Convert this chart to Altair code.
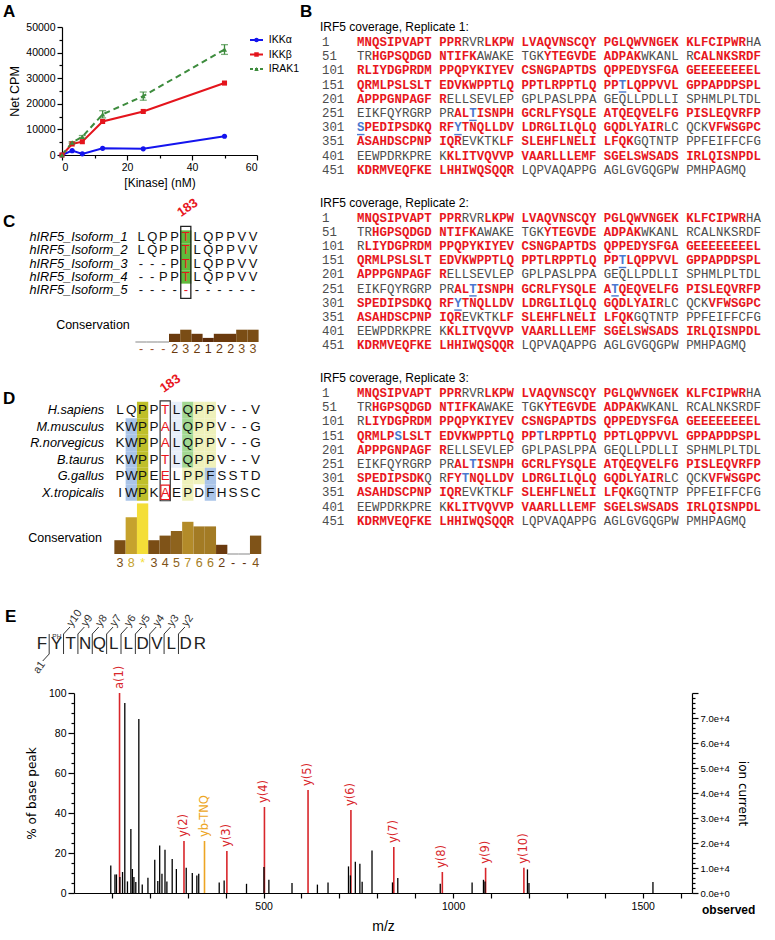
import altair as alt
import pandas as pd

FONT = "Liberation Sans"
NARROW = "Liberation Sans Narrow, Liberation Sans"
MONO = "Liberation Mono"
ROUND = "DejaVu Sans"

# ---------------- Panel A: kinase titration ----------------
kinase_nM = [0, 3.125, 6.25, 12.5, 25, 50]
cpm_ikka = [0, 1700, 450, 2600, 2400, 7300]
cpm_ikkb = [0, 4300, 5200, 13100, 17000, 28100]
cpm_irak1 = [0, 4900, 7100, 15900, 23000, 41200]
sd_irak1 = [0, 300, 500, 1400, 1600, 1900]
kinase_names = ["IKKα", "IKKβ", "IRAK1"]
kinase_colors = ["#1414ee", "#e4141c", "#3e8c3e"]
kinase_shapes = ["circle", "square", "triangle-up"]

# ---------------- Panel B: IRF5 peptide coverage ----------------
irf5_seq = (
    "MNQSIPVAPTPPRRVRLKPWLVAQVNSCQYPGLQWVNGEKKLFCIPWRHA"
    "TRHGPSQDGDNTIFKAWAKETGKYTEGVDEADPAKWKANLRCALNKSRDF"
    "RLIYDGPRDMPPQPYKIYEVCSNGPAPTDSQPPEDYSFGAGEEEEEEEEL"
    "QRMLPSLSLTEDVKWPPTLQPPTLRPPTLQPPTLQPPVVLGPPAPDPSPL"
    "APPPGNPAGFRELLSEVLEPGPLPASLPPAGEQLLPDLLISPHMLPLTDL"
    "EIKFQYRGRPPRALTISNPHGCRLFYSQLEATQEQVELFGPISLEQVRFP"
    "SPEDIPSDKQRFYTNQLLDVLDRGLILQLQGQDLYAIRLCQCKVFWSGPC"
    "ASAHDSCPNPIQREVKTKLFSLEHFLNELILFQKGQTNTPPPFEIFFCFG"
    "EEWPDRKPREKKLITVQVVPVAARLLLEMFSGELSWSADSIRLQISNPDL"
    "KDRMVEQFKELHHIWQSQQRLQPVAQAPPGAGLGVGQGPWPMHPAGMQ"
)
coverage_rep1 = [(1, 13), (17, 48), (53, 65), (74, 85), (92, 211), (263, 338),
                 (344, 363), (369, 384), (412, 470)]
coverage_rep2 = [(1, 13), (17, 48), (53, 65), (74, 85), (102, 211), (263, 338),
                 (344, 363), (369, 384), (412, 470)]
coverage_rep3 = [(1, 13), (17, 48), (53, 65), (74, 85), (102, 211), (263, 309),
                 (312, 338), (344, 363), (369, 384), (412, 470)]
sites_rep1 = [183, 265, 301, 313]
sites_rep2 = [183, 265, 282, 313]
sites_rep3 = [156, 173, 265, 314]
sites_underlined = [True, True, False]

# ---------------- Panel C: isoform alignment ----------------
isoform_names = ["hIRF5_Isoform_1", "hIRF5_Isoform_2", "hIRF5_Isoform_3",
                 "hIRF5_Isoform_4", "hIRF5_Isoform_5"]
isoform_aln = ["LQPPTLQPPVV", "LQPPTLQPPVV", "---PTLQPPVV", "--PPTLQPPVV", "-----------"]
isoform_cons_labels = list("---23212233")
isoform_cons = [0, 0, 0, 2, 3, 2, 1, 2, 2, 3, 3]

# ---------------- Panel D: species alignment ----------------
species_names = ["H.sapiens", "M.musculus", "R.norvegicus", "B.taurus", "G.gallus", "X.tropicalis"]
species_aln = ["LQPPTLQPPV--V", "KWPPALQPPV--G", "KWPPALQPPV--G",
               "KWPPTLQPPV--V", "PWPEELPPFSSTD", "IWPKAEPDFHSSC"]
species_shade = ["..o..fgyy....", ".bo..fgyy....", ".bo..fgyy....",
                 ".bo..fgyy....", ".bo...yyb....", ".bo...y.b...."]
species_cons_labels = list("38*3457662--4")
species_cons = [3, 8, 11, 3, 4, 5, 7, 6, 6, 2, 0, 0, 4]
site_column = 4

# ---------------- Panel E: MS/MS spectrum ----------------
peptide = "FYTNQLLDVLDR"
ion_mz = [120.1, 290.1, 344.2, 403.2, 502.3, 617.3, 730.4, 843.5, 971.5, 1085.6, 1186.6]
ion_pct = [100, 26, 26, 21, 43, 51.5, 41.5, 23, 10.5, 12.6, 12.6]
ion_names = ["a(1)", "y(2)", "yb-TNQ", "y(3)", "y(4)", "y(5)", "y(6)", "y(7)", "y(8)", "y(9)", "y(10)"]
other_mz = [97, 108, 112, 121, 128, 134, 141, 150, 154, 158, 163, 171, 180, 195, 213, 221,
            226, 232, 240, 245, 259, 270, 296, 312, 324, 329, 383, 396, 455, 501, 514, 575,
            642, 670, 724, 729, 742, 754, 760, 786, 840, 854, 966, 1050, 1080, 1084, 1196,
            1200, 1527]
other_pct = [13.8, 9.3, 9.3, 8, 10.5, 95, 5.8, 32, 12, 8, 5.5, 87, 4.3, 7.6, 16.6, 6,
             23.8, 9.6, 21.6, 5.8, 17, 12, 12.6, 10, 8.8, 9.6, 5.3, 6.3, 4.6, 13, 6.6, 5,
             4.2, 5.3, 13.3, 8.8, 15.6, 14.6, 5.6, 21.3, 5.3, 7.5, 4.6, 5.3, 6.6, 5.8, 11.8,
             5, 5.5]
base_peak_counts = 80000

# ---------------- styling ----------------
RED = "#e8161d"
GREY = "#4d4d4d"
BLUE = "#4a78cf"
cons_palette = {0: "#999999", 1: "#5b2c0a", 2: "#6a3a0e", 3: "#7a4d15", 4: "#7f5318",
                5: "#8e631d", 6: "#a37b24", 7: "#b38b29", 8: "#c6a22d", 11: "#f4de38"}
shade_palette = {"o": "#bfbf2a", "b": "#aac4e8", "f": "#e8eff9", "g": "#a2d792", "y": "#eff1bb"}


def lin(domain, rng):
    return alt.Scale(domain=domain, range=rng, nice=False, zero=False)


def cond_tick(test, big, small):
    return {"condition": {"test": test, "value": big}, "value": small}


axis_style = dict(grid=False, domainColor="black", tickColor="black", labelColor="black",
                  titleColor="black", titleFontWeight="normal", domainWidth=1.2, tickWidth=1.2)

# ======================= Panel A =======================
a_rows = []
for name, color, shape, vals in zip(kinase_names, kinase_colors, kinase_shapes,
                                    [cpm_ikka, cpm_ikkb, cpm_irak1]):
    for i, (c, v) in enumerate(zip(kinase_nM, vals)):
        a_rows.append({"series": name, "color": color, "shape": shape, "nM": c, "cpm": v,
                       "sd": sd_irak1[i] if name == "IRAK1" else 0})
df_a = pd.DataFrame(a_rows)
sx_a = alt.Scale(domain=[0, 60], nice=False)
sy_a = alt.Scale(domain=[0, 50000], nice=False)
x_a_axis = alt.X("nM:Q", title="[Kinase] (nM)", scale=sx_a, axis=alt.Axis(
    values=list(range(0, 61, 10)), labelExpr="datum.value % 20 === 0 ? datum.label : ''",
    tickSize=cond_tick("datum.value % 20 === 0", 5, 3), labelFont=FONT, titleFont=FONT,
    labelFontSize=10.5, titleFontSize=12, labelPadding=2, titlePadding=5, **axis_style))
y_a_axis = alt.Y("cpm:Q", title="Net CPM", scale=sy_a, axis=alt.Axis(
    values=list(range(0, 50001, 5000)), format="d",
    labelExpr="datum.value % 10000 === 0 ? datum.label : ''",
    tickSize=cond_tick("datum.value % 10000 === 0", 5, 3), labelFont=FONT, titleFont=FONT,
    labelFontSize=10.5, titleFontSize=12.5, labelPadding=2, titlePadding=4, **axis_style))
x_a = alt.X("nM:Q", scale=sx_a, axis=None)
y_a = alt.Y("cpm:Q", scale=sy_a, axis=None)
col_raw = alt.Color("color:N", scale=None)

base_a = alt.Chart(df_a)
a_solid = base_a.transform_filter("datum.series != 'IRAK1'").mark_line(strokeWidth=2).encode(
    x=x_a_axis, y=y_a_axis, color=col_raw, detail="series:N")
a_dash = base_a.transform_filter("datum.series == 'IRAK1'").mark_line(
    strokeWidth=2, strokeDash=[6, 4]).encode(x=x_a, y=y_a, color=col_raw)
a_err = base_a.transform_filter("datum.sd > 0").transform_calculate(
    lo="datum.cpm - datum.sd", hi="datum.cpm + datum.sd")
a_bar = a_err.mark_rule(strokeWidth=1.3).encode(
    x=x_a, y=alt.Y("lo:Q", scale=sy_a, axis=None), y2="hi:Q", color=col_raw)
a_cap_lo = a_err.mark_tick(orient="horizontal", size=7, thickness=1.3).encode(
    x=x_a, y=alt.Y("lo:Q", scale=sy_a, axis=None), color=col_raw)
a_cap_hi = a_err.mark_tick(orient="horizontal", size=7, thickness=1.3).encode(
    x=x_a, y=alt.Y("hi:Q", scale=sy_a, axis=None), color=col_raw)
a_pts = base_a.mark_point(filled=True, size=26, opacity=1).encode(
    x=x_a, y=y_a, color=col_raw, shape=alt.Shape("shape:N", scale=None))

# legend of panel A
df_leg = pd.DataFrame({"series": kinase_names, "color": kinase_colors,
                       "shape": kinase_shapes, "row": [0, 1, 2]})
lx = lin([0, 1], [188, 201])
ly = lin([0, 2], [13, 42])
leg = alt.Chart(df_leg).transform_calculate(x0="0", x1="1", xm="0.5", xt="1.45")
leg_line = leg.mark_rule(strokeWidth=2).encode(
    x=alt.X("x0:Q", scale=lx, axis=None), x2="x1:Q",
    y=alt.Y("row:Q", scale=ly, axis=None), color=col_raw,
    strokeDash=alt.condition("datum.series === 'IRAK1'", alt.value([3, 2]), alt.value([1, 0])))
leg_pt = leg.mark_point(filled=True, size=20, opacity=1).encode(
    x=alt.X("xm:Q", scale=lx, axis=None), y=alt.Y("row:Q", scale=ly, axis=None),
    color=col_raw, shape=alt.Shape("shape:N", scale=None))
leg_txt = leg.mark_text(align="left", baseline="middle", font=FONT, fontSize=10.5,
                        color="black").encode(
    x=alt.X("xt:Q", scale=lx, axis=None), y=alt.Y("row:Q", scale=ly, axis=None),
    text="series:N")

# ======================= Panel B =======================
REP_GAP = 12.36
reps = [(coverage_rep1, sites_rep1), (coverage_rep2, sites_rep2), (coverage_rep3, sites_rep3)]
b_chars, b_lines = [], []
for r, (cov, sites) in enumerate(reps):
    covered = set()
    for s, e in cov:
        covered.update(range(s, e + 1))
    for p in range(1, len(irf5_seq) + 1):
        k, i = divmod(p - 1, 50)
        slot = (i // 10) * 11 + i % 10
        line = r * REP_GAP + k
        if p in sites:
            color, bold = BLUE, True
        elif p in covered:
            color, bold = RED, True
        else:
            color, bold = GREY, False
        b_chars.append({"ch": irf5_seq[p - 1], "slot": slot, "line": line,
                        "color": color, "bold": bold,
                        "ul": bool(p in sites and sites_underlined[r])})
    for k in range(10):
        b_lines.append({"num": str(k * 50 + 1), "slot": -5.18, "line": r * REP_GAP + k})
df_b = pd.DataFrame(b_chars)
df_b_num = pd.DataFrame(b_lines)
df_b_title = pd.DataFrame({"title": [f"IRF5 coverage, Replicate {r + 1}:" for r in range(3)],
                           "slot": [-5.45] * 3,
                           "line": [r * REP_GAP - 1.05 for r in range(3)]})
bx = lin([0, 1], [298.74, 306.22])
by = lin([0, 1], [15, 29.2])
b_bold = alt.Chart(df_b).transform_filter("datum.bold").mark_text(
    font=MONO, fontSize=12.4, fontWeight="bold", align="center", baseline="middle").encode(
    x=alt.X("slot:Q", scale=bx, axis=None), y=alt.Y("line:Q", scale=by, axis=None),
    text="ch:N", color=col_raw)
b_reg = alt.Chart(df_b).transform_filter("!datum.bold").mark_text(
    font=MONO, fontSize=12.4, align="center", baseline="middle").encode(
    x=alt.X("slot:Q", scale=bx, axis=None), y=alt.Y("line:Q", scale=by, axis=None),
    text="ch:N", color=col_raw)
b_ul = alt.Chart(df_b).transform_filter("datum.ul").transform_calculate(
    u0="datum.slot - 0.5", u1="datum.slot + 0.5", uy="datum.line + 0.52").mark_rule(
    strokeWidth=1.4, color=BLUE).encode(
    x=alt.X("u0:Q", scale=bx, axis=None), x2="u1:Q", y=alt.Y("uy:Q", scale=by, axis=None))
b_num = alt.Chart(df_b_num).mark_text(font=MONO, fontSize=12.4, align="left",
                                      baseline="middle", color=GREY).encode(
    x=alt.X("slot:Q", scale=bx, axis=None), y=alt.Y("line:Q", scale=by, axis=None),
    text="num:N")
b_title = alt.Chart(df_b_title).mark_text(font=FONT, fontSize=12, align="left",
                                          baseline="middle", color="black").encode(
    x=alt.X("slot:Q", scale=bx, axis=None), y=alt.Y("line:Q", scale=by, axis=None),
    text="title:N")

# ======================= Panel C =======================
c_cells = []
for r, seq in enumerate(isoform_aln):
    for c, ch in enumerate(seq):
        on_site = c == site_column
        c_cells.append({"row": r, "col": c, "ch": ch,
                        "color": RED if on_site else "#111111",
                        "fill": "#5fba3c" if (on_site and ch != "-") else "none"})
df_c = pd.DataFrame(c_cells)
cx = lin([0, 10], [79, 191])
cy = lin([0, 4], [210, 263.3])
c_bg = alt.Chart(df_c).transform_filter("datum.fill != 'none'").transform_calculate(
    x0="datum.col - 0.5", x1="datum.col + 0.5", y0="datum.row - 0.5", y1="datum.row + 0.5"
).mark_rect().encode(
    x=alt.X("x0:Q", scale=cx, axis=None), x2="x1:Q",
    y=alt.Y("y0:Q", scale=cy, axis=None), y2="y1:Q", fill=alt.Fill("fill:N", scale=None))
c_txt = alt.Chart(df_c).mark_text(font=FONT, fontSize=13, align="center",
                                  baseline="middle").encode(
    x=alt.X("col:Q", scale=cx, axis=None), y=alt.Y("row:Q", scale=cy, axis=None),
    text="ch:N", color=col_raw)
df_c_names = pd.DataFrame({"name": isoform_names, "row": list(range(5)), "col": [-1.2] * 5})
c_names = alt.Chart(df_c_names).mark_text(font=FONT, fontSize=12.7, fontStyle="italic",
                                          align="right", baseline="middle",
                                          color="black").encode(
    x=alt.X("col:Q", scale=cx, axis=None), y=alt.Y("row:Q", scale=cy, axis=None),
    text="name:N")
df_c_box = pd.DataFrame({"x0": [site_column - 0.45], "x1": [site_column + 0.45],
                         "y0": [-0.8], "y1": [4.6], "lab": ["183"],
                         "lx": [site_column + 0.15], "ly": [-2.2]})
c_box = alt.Chart(df_c_box).mark_rect(fillOpacity=0, stroke="#222222", strokeWidth=1.3).encode(
    x=alt.X("x0:Q", scale=cx, axis=None), x2="x1:Q",
    y=alt.Y("y0:Q", scale=cy, axis=None), y2="y1:Q")
c_183 = alt.Chart(df_c_box).mark_text(font=FONT, fontSize=13, fontWeight="bold", color=RED,
                                      angle=325, align="center", baseline="middle").encode(
    x=alt.X("lx:Q", scale=cx, axis=None), y=alt.Y("ly:Q", scale=cy, axis=None), text="lab:N")

df_cc = pd.DataFrame({"col": list(range(11)), "val": isoform_cons, "lab": isoform_cons_labels})
df_cc["color"] = [cons_palette[v] if v > 0 else "#a0522d" for v in isoform_cons]
df_cc["bar"] = [cons_palette[v] for v in isoform_cons]
ccy = lin([0, 3], [315, 302.7])
cc = alt.Chart(df_cc).transform_calculate(x0="datum.col - 0.5", x1="datum.col + 0.5",
                                          zero="0", ty="-1.8")
cc_bar = cc.transform_filter("datum.val > 0").mark_rect().encode(
    x=alt.X("x0:Q", scale=cx, axis=None), x2="x1:Q",
    y=alt.Y("zero:Q", scale=ccy, axis=None), y2="val:Q", fill=alt.Fill("bar:N", scale=None))
cc_base = cc.transform_filter("datum.val == 0").mark_rule(strokeWidth=1.2, color="#9a9a9a").encode(
    x=alt.X("x0:Q", scale=cx, axis=None), x2="x1:Q", y=alt.Y("zero:Q", scale=ccy, axis=None))
cc_lab = cc.mark_text(font=FONT, fontSize=12.5, align="center", baseline="middle").encode(
    x=alt.X("col:Q", scale=cx, axis=None), y=alt.Y("ty:Q", scale=ccy, axis=None),
    text="lab:N", color=col_raw)
cc_title = alt.Chart(pd.DataFrame({"t": ["Conservation"], "col": [-1.0], "v": [4.1]})).mark_text(
    font=FONT, fontSize=12.5, align="right", baseline="middle", color="black").encode(
    x=alt.X("col:Q", scale=cx, axis=None), y=alt.Y("v:Q", scale=ccy, axis=None), text="t:N")

# ======================= Panel D =======================
d_cells = []
for r, (seq, shade) in enumerate(zip(species_aln, species_shade)):
    for c, (ch, sh) in enumerate(zip(seq, shade)):
        d_cells.append({"row": r, "col": c, "ch": ch,
                        "color": RED if c == site_column else "#111111",
                        "fill": shade_palette.get(sh, "none")})
df_d = pd.DataFrame(d_cells)
dx = lin([0, 12], [58, 193.6])
dy = lin([0, 5], [383, 465.5])
d_bg = alt.Chart(df_d).transform_filter("datum.fill != 'none'").transform_calculate(
    x0="datum.col - 0.5", x1="datum.col + 0.5", y0="datum.row - 0.5", y1="datum.row + 0.5"
).mark_rect().encode(
    x=alt.X("x0:Q", scale=dx, axis=None), x2="x1:Q",
    y=alt.Y("y0:Q", scale=dy, axis=None), y2="y1:Q", fill=alt.Fill("fill:N", scale=None))
d_txt = alt.Chart(df_d).mark_text(font=FONT, fontSize=13.5, align="center",
                                  baseline="middle").encode(
    x=alt.X("col:Q", scale=dx, axis=None), y=alt.Y("row:Q", scale=dy, axis=None),
    text="ch:N", color=col_raw)
df_d_names = pd.DataFrame({"name": species_names, "row": list(range(6)), "col": [-1.4] * 6})
d_names = alt.Chart(df_d_names).mark_text(font=FONT, fontSize=12.7, fontStyle="italic",
                                          align="right", baseline="middle",
                                          color="black").encode(
    x=alt.X("col:Q", scale=dx, axis=None), y=alt.Y("row:Q", scale=dy, axis=None),
    text="name:N")
df_d_box = pd.DataFrame({"x0": [site_column - 0.45], "x1": [site_column + 0.45],
                         "y0": [-0.55], "y1": [5.5], "lab": ["183"],
                         "lx": [site_column + 0.45], "ly": [-1.6]})
d_box = alt.Chart(df_d_box).mark_rect(fillOpacity=0, stroke="#333333", strokeWidth=1.2).encode(
    x=alt.X("x0:Q", scale=dx, axis=None), x2="x1:Q",
    y=alt.Y("y0:Q", scale=dy, axis=None), y2="y1:Q")
# selected residue of the last sequence
df_d_sel = pd.DataFrame({"x0": [site_column - 0.38], "x1": [site_column + 0.38],
                         "y0": [4.55], "y1": [5.42]})
d_sel = alt.Chart(df_d_sel).mark_rect(fillOpacity=0, stroke=RED, strokeWidth=1.1).encode(
    x=alt.X("x0:Q", scale=dx, axis=None), x2="x1:Q",
    y=alt.Y("y0:Q", scale=dy, axis=None), y2="y1:Q")
d_183 = alt.Chart(df_d_box).mark_text(font=FONT, fontSize=13, fontWeight="bold", color=RED,
                                      angle=325, align="center", baseline="middle").encode(
    x=alt.X("lx:Q", scale=dx, axis=None), y=alt.Y("ly:Q", scale=dy, axis=None), text="lab:N")

df_dc = pd.DataFrame({"col": list(range(13)), "val": species_cons, "lab": species_cons_labels})
df_dc["color"] = [cons_palette[v] if v > 0 else "#5b2c0a" for v in species_cons]
df_dc["bar"] = [cons_palette[v] for v in species_cons]
dcy = lin([0, 11], [527, 476.4])
dc = alt.Chart(df_dc).transform_calculate(x0="datum.col - 0.5", x1="datum.col + 0.5",
                                          zero="0", ty="-1.95")
dc_bar = dc.transform_filter("datum.val > 0").mark_rect().encode(
    x=alt.X("x0:Q", scale=dx, axis=None), x2="x1:Q",
    y=alt.Y("zero:Q", scale=dcy, axis=None), y2="val:Q", fill=alt.Fill("bar:N", scale=None))
dc_base = dc.transform_filter("datum.val == 0").mark_rule(strokeWidth=1.2, color="#9a9a9a").encode(
    x=alt.X("x0:Q", scale=dx, axis=None), x2="x1:Q", y=alt.Y("zero:Q", scale=dcy, axis=None))
dc_lab = dc.mark_text(font=FONT, fontSize=12.5, align="center", baseline="middle").encode(
    x=alt.X("col:Q", scale=dx, axis=None), y=alt.Y("ty:Q", scale=dcy, axis=None),
    text="lab:N", color=col_raw)
dc_title = alt.Chart(pd.DataFrame({"t": ["Conservation"], "col": [-1.6], "v": [3.5]})).mark_text(
    font=FONT, fontSize=12.5, align="right", baseline="middle", color="black").encode(
    x=alt.X("col:Q", scale=dx, axis=None), y=alt.Y("v:Q", scale=dcy, axis=None), text="t:N")

# panel letters of the upper block
df_letters = pd.DataFrame({"t": ["A", "B", "C", "D"]})
letter_pos = {"A": (-59, -23), "B": (238, -23), "C": (-59, 187), "D": (-59, 364)}
letter_layers = [
    alt.Chart(df_letters).transform_filter(f"datum.t == '{t}'").mark_text(
        font=FONT, fontSize=17, fontWeight="bold", align="left", baseline="top",
        color="black").encode(text="t:N", x=alt.value(px), y=alt.value(py))
    for t, (px, py) in letter_pos.items()
]

top = alt.layer(
    a_solid, a_dash, a_bar, a_cap_lo, a_cap_hi, a_pts,
    leg_line, leg_pt, leg_txt,
    b_title, b_num, b_reg, b_bold, b_ul,
    c_bg, c_txt, c_names, c_box, c_183, cc_bar, cc_base, cc_lab, cc_title,
    d_bg, d_txt, d_names, d_box, d_sel, d_183, dc_bar, dc_base, dc_lab, dc_title,
    *letter_layers,
).resolve_scale(x="independent", y="independent").properties(width=195, height=128)

# ======================= Panel E =======================
df_ion = pd.DataFrame({"mz": ion_mz, "pct": ion_pct, "name": ion_names})
df_ion["color"] = ["#eda523" if n.startswith("yb") else "#d8262b" for n in ion_names]
df_other = pd.DataFrame({"mz": other_mz, "pct": other_pct})
sx_e = lin([0, 1630], [12, 630])
x_e_axis = alt.X("mz:Q", title="m/z", scale=sx_e, axis=alt.Axis(
    values=list(range(100, 1601, 100)), format="d",
    labelExpr="datum.value % 500 === 0 ? datum.label : ''",
    tickSize=5, labelFont=NARROW, titleFont=NARROW, labelFontSize=10.5, titleFontSize=14,
    labelPadding=3, titlePadding=8, **axis_style))
y_e_axis = alt.Y("pct:Q", title="% of base peak", scale=alt.Scale(domain=[0, 100], nice=False),
                 axis=alt.Axis(values=list(range(0, 101, 5)),
                               labelExpr="datum.value % 20 === 0 ? datum.label : ''",
                               tickSize=cond_tick("datum.value % 20 === 0", 6, 3), offset=-12,
                               labelFont=NARROW, titleFont=ROUND, labelFontSize=10.5,
                               titleFontSize=12, labelPadding=2, titlePadding=10, **axis_style))
e_zero = alt.Chart(df_ion).transform_calculate(zero="0")
e_ion = e_zero.mark_rule(strokeWidth=1.6).encode(
    x=x_e_axis, y=y_e_axis, y2="zero:Q", color=col_raw)
e_ion_lab = alt.Chart(df_ion).mark_text(angle=270, align="left", baseline="middle", dx=4,
                                        font=ROUND, fontSize=11.5).encode(
    x=alt.X("mz:Q", scale=sx_e, axis=None),
    y=alt.Y("pct:Q", scale=alt.Scale(domain=[0, 100], nice=False), axis=None),
    text="name:N", color=col_raw)
e_other = alt.Chart(df_other).transform_calculate(
    counts=f"datum.pct * {base_peak_counts} / 100", zero="0").mark_rule(
    strokeWidth=1.3, color="black").encode(
    x=alt.X("mz:Q", scale=sx_e, axis=None),
    y=alt.Y("counts:Q", title="ion current",
            scale=alt.Scale(domain=[0, base_peak_counts], nice=False),
            axis=alt.Axis(orient="right", values=list(range(0, base_peak_counts + 1, 2000)),
                          labelExpr="datum.value % 10000 === 0 && datum.value < 80000 ? "
                                    "(datum.value === 0 ? '0.0e+0' : "
                                    "format(datum.value / 10000, '.1f') + 'e+4') : ''",
                          tickSize=cond_tick("datum.value % 10000 === 0", 6, 3),
                          labelFont=NARROW, titleFont=ROUND, labelFontSize=9.5,
                          titleFontSize=12, labelPadding=2, titlePadding=6, **axis_style)),
    y2="zero:Q")

# peptide fragment map above the spectrum
px_s = lin([0, 11], [-20, 138])
py_s = lin([-1, 1], [-39, -59])
df_pep = pd.DataFrame({"aa": list(peptide), "pos": list(range(len(peptide)))})
pep_txt = alt.Chart(df_pep).transform_calculate(lvl="0").mark_text(
    font=NARROW, fontSize=17, align="center", baseline="middle", color="#222222").encode(
    x=alt.X("pos:Q", scale=px_s, axis=None), y=alt.Y("lvl:Q", scale=py_s, axis=None),
    text="aa:N")
cut_after = list(range(10))
cut_names = ["a1"] + [f"y{11 - b}" for b in range(1, 10)]
df_cut = pd.DataFrame({"b": cut_after, "name": cut_names})
df_cut["up"] = [b > 0 for b in cut_after]
cuts = alt.Chart(df_cut).transform_calculate(
    cx="datum.b + 0.5", lo="-1", hi="1",
    sx="datum.up ? datum.b + 0.95 : datum.b + 0.05",
    sy="datum.up ? 1.7 : -1.7",
    ey="datum.up ? 1 : -1",
    tx="datum.up ? datum.b + 0.92 : datum.b + 0.08",
    ty="datum.up ? 1.85 : -1.85")
cut_bar = cuts.mark_rule(strokeWidth=1, color="#333333").encode(
    x=alt.X("cx:Q", scale=px_s, axis=None), y=alt.Y("lo:Q", scale=py_s, axis=None), y2="hi:Q")
cut_slant = cuts.mark_rule(strokeWidth=1, color="#333333").encode(
    x=alt.X("cx:Q", scale=px_s, axis=None), x2="sx:Q",
    y=alt.Y("ey:Q", scale=py_s, axis=None), y2="sy:Q")
cut_y = cuts.transform_filter("datum.up").mark_text(
    font=NARROW, fontSize=11, angle=305, align="left", baseline="middle",
    color="#333333").encode(
    x=alt.X("tx:Q", scale=px_s, axis=None), y=alt.Y("ty:Q", scale=py_s, axis=None),
    text="name:N")
cut_a = cuts.transform_filter("!datum.up").mark_text(
    font=NARROW, fontSize=11, angle=305, align="right", baseline="middle",
    color="#333333").encode(
    x=alt.X("tx:Q", scale=px_s, axis=None), y=alt.Y("ty:Q", scale=py_s, axis=None),
    text="name:N")
ph_mark = alt.Chart(pd.DataFrame({"t": ["PH"], "pos": [0.72], "lvl": [0.72]})).mark_text(
    font=NARROW, fontSize=6.5, align="left", baseline="middle", color="#333333").encode(
    x=alt.X("pos:Q", scale=px_s, axis=None), y=alt.Y("lvl:Q", scale=py_s, axis=None),
    text="t:N")

e_letter = alt.Chart(pd.DataFrame({"t": ["E"]})).mark_text(
    font=FONT, fontSize=17, fontWeight="bold", align="left", baseline="top",
    color="black").encode(text="t:N", x=alt.value(-57), y=alt.value(-84))
e_observed = alt.Chart(pd.DataFrame({"t": ["observed"]})).mark_text(
    font=NARROW, fontSize=12, fontWeight="bold", align="left", baseline="middle",
    color="black").encode(text="t:N", x=alt.value(640), y=alt.value(217))

e_chart = alt.layer(
    e_ion, e_other, e_ion_lab, pep_txt, cut_bar, cut_slant, cut_y, cut_a, ph_mark,
    e_letter, e_observed,
).resolve_scale(x="independent", y="independent").properties(width=630, height=200)

chart = alt.vconcat(top, e_chart, spacing=538, bounds="flush").properties(
    padding={"left": 3, "top": 3, "right": 3, "bottom": 3},
    background="white",
).configure_view(stroke=None)

chart.save("out.html", embed_options={"renderer": "svg", "actions": False})
